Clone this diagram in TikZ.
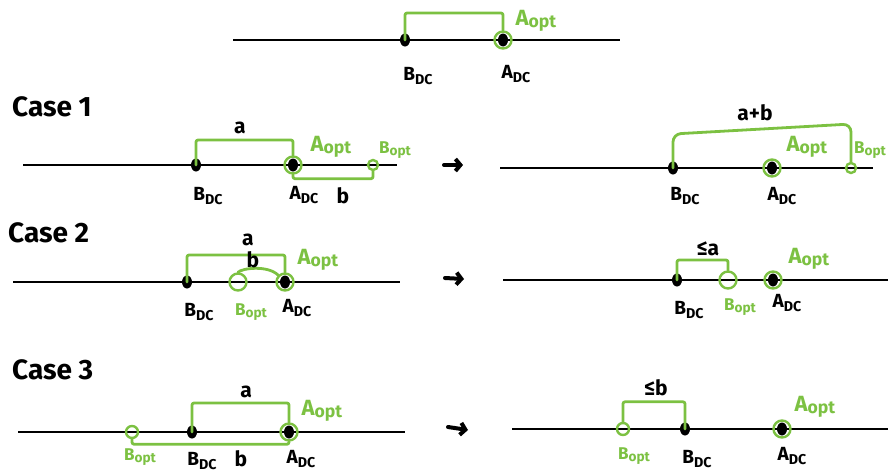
\documentclass[tikz,border=0pt]{standalone}
\usepackage{fontspec}
\setmainfont{Fira Sans}
\definecolor{optgreen}{HTML}{7CC142}
\usetikzlibrary{arrows.meta, positioning, shapes.geometric}
\newcommand{\lowsub}[1]{\raisebox{-0.45ex}{\scalebox{0.75}{#1}}}
\newcommand{\optsub}[1]{\raisebox{-0.2ex}{\scalebox{0.8}{#1}}}
\tikzset{
  axis/.style={line width=2pt},
  dcdot/.style={ellipse, fill=black, inner sep=0pt, minimum width=10pt, minimum height=13pt},
  optring/.style={circle, draw=optgreen, line width=2.4pt, inner sep=0pt, minimum size=#1},
  optring/.default=17pt,
  bracket/.style={draw=optgreen, line width=2.8pt, line join=round, line cap=round, rounded corners=2pt},
  dclabel/.style={font=\fontsize{19}{19}\selectfont\bfseries},
  optlabel/.style={text=optgreen, font=\fontsize{22}{22}\selectfont\bfseries},
  smallopt/.style={text=optgreen, font=\fontsize{17}{17}\selectfont\bfseries},
  distlabel/.style={font=\fontsize{21}{21}\selectfont\bfseries},
  caselabel/.style={anchor=west, inner sep=0pt, font=\fontsize{28}{28}\selectfont\bfseries},
  turn/.style={-{Straight Barb[length=5pt,width=12pt]}, line width=4pt, line cap=round}
}
\begin{document}
\begin{tikzpicture}[x=1pt, y=-1pt]
  \useasboundingbox (0,0) rectangle (888,474);

  \draw[axis] (233,40) -- (620,40);
  \node[dcdot] (tb) at (405,40) {};
  \node[dcdot] (ta) at (503,40) {};
  \node[optring] (tao) at (503,40) {};
  \draw[bracket] (tb.center) -- ++(0,-27) -| (tao.north);
  \node[optlabel] (taol) at (536,21) {A\optsub{opt}};
  \node[dclabel] (tbl) at (418,76) {B\lowsub{DC}};
  \node[dclabel] (tal) at (516,74) {A\lowsub{DC}};

  \node[caselabel] (c1) at (12,107) {Case 1};
  \draw[axis] (23,165) -- (397,165);
  \node[dcdot] (c1b) at (196,165) {};
  \node[dcdot] (c1a) at (293,165) {};
  \node[optring] (c1ao) at (293,165) {};
  \node[optring=10pt] (c1bo) at (373,165) {};
  \draw[bracket] (c1b.center) -- ++(0,-25) -| (c1ao.north);
  \draw[bracket] (c1ao.south) -- ++(0,4) -| (c1bo.south);
  \node[distlabel] (c1al) at (240,128) {a};
  \node[distlabel] (c1bl) at (343,196) {b};
  \node[optlabel] (c1aol) at (331,147) {A\optsub{opt}};
  \node[smallopt] (c1bol) at (395,150) {B\optsub{opt}};
  \node[dclabel] (c1bdl) at (208,196) {B\lowsub{DC}};
  \node[dclabel] (c1adl) at (304,195) {A\lowsub{DC}};

  \draw[turn] (444,165) -- (463,165);
  \draw[axis] (500,168) -- (873,168);
  \node[dcdot] (r1b) at (673,168) {};
  \node[dcdot] (r1a) at (772,168) {};
  \node[optring] (r1ao) at (772,168) {};
  \node[optring=10pt] (r1bo) at (851,168) {};
  \coordinate (r1ab) at (851,124);
  \draw[bracket, rounded corners=8pt] (r1b.center) -- ++(0,-34) -- (r1ab) -- (r1bo.north);
  \node[distlabel] (r1abl) at (755,113) {a+b};
  \node[optlabel] (r1aol) at (807,147) {A\optsub{opt}};
  \node[smallopt] (r1bol) at (870,150) {B\optsub{opt}};
  \node[dclabel] (r1bdl) at (685,196) {B\lowsub{DC}};
  \node[dclabel] (r1adl) at (782,196) {A\lowsub{DC}};

  \node[caselabel] (c2) at (8,233) {Case 2};
  \draw[axis] (13,282) -- (400,282);
  \node[dcdot] (c2b) at (187,282) {};
  \node[optring] (c2bo) at (238,282) {};
  \node[dcdot] (c2a) at (285,282) {};
  \node[optring] (c2ao) at (285,282) {};
  \draw[bracket] (c2b.center) -- ++(0,-27) -| (c2ao.north);
  \draw[bracket] (c2bo.north) .. controls (242,268) and (268,265) .. (c2ao.north west);
  \node[distlabel] (c2al) at (248,240) {a};
  \node[distlabel] (c2bl) at (253,260) {b};
  \node[optlabel] (c2aol) at (318,260) {A\optsub{opt}};
  \node[smallopt] (c2bol) at (251,312) {B\optsub{opt}};
  \node[dclabel] (c2bdl) at (199,312) {B\lowsub{DC}};
  \node[dclabel] (c2adl) at (297,308) {A\lowsub{DC}};

  \draw[turn] (445,278) -- (464,279);
  \draw[axis] (503,280) -- (888,280);
  \node[dcdot] (r2b) at (677,280) {};
  \node[optring] (r2bo) at (728,280) {};
  \node[dcdot] (r2a) at (773,280) {};
  \node[optring] (r2ao) at (773,280) {};
  \draw[bracket] (r2b.center) -- ++(0,-20) -| (r2bo.north);
  \node[distlabel] (r2al) at (708,249) {≤a};
  \node[optlabel] (r2aol) at (809,259) {A\optsub{opt}};
  \node[smallopt] (r2bol) at (740,307) {B\optsub{opt}};
  \node[dclabel] (r2bdl) at (689,310) {B\lowsub{DC}};
  \node[dclabel] (r2adl) at (787,303) {A\lowsub{DC}};

  \node[caselabel] (c3) at (12,370) {Case 3};
  \draw[axis] (18,432) -- (405,432);
  \node[optring=12pt] (c3bo) at (132,432) {};
  \node[dcdot] (c3b) at (192,432) {};
  \node[dcdot] (c3a) at (289,432) {};
  \node[optring] (c3ao) at (289,432) {};
  \draw[bracket] (c3b.center) -- ++(0,-29) -| (c3ao.north);
  \draw[bracket] (c3bo.south) -- ++(0,5) -| (c3ao.south);
  \node[distlabel] (c3al) at (246,392) {a};
  \node[distlabel] (c3bl) at (241,459) {b};
  \node[optlabel] (c3aol) at (322,411) {A\optsub{opt}};
  \node[smallopt] (c3bol) at (140,457) {B\optsub{opt}};
  \node[dclabel] (c3bdl) at (202,461) {B\lowsub{DC}};
  \node[dclabel] (c3adl) at (301,459) {A\lowsub{DC}};

  \draw[turn] (448,427) -- (468,430);
  \draw[axis] (512,429) -- (888,429);
  \node[optring=12pt] (r3bo) at (623,429) {};
  \node[dcdot] (r3b) at (685,429) {};
  \node[dcdot] (r3a) at (782,429) {};
  \node[optring] (r3ao) at (782,429) {};
  \draw[bracket] (r3bo.north) -- ++(0,-20) -| (r3b.center);
  \node[distlabel] (r3bl) at (656,388) {≤b};
  \node[optlabel] (r3aol) at (815,407) {A\optsub{opt}};
  \node[smallopt] (r3bol) at (634,456) {B\optsub{opt}};
  \node[dclabel] (r3bdl) at (697,459) {B\lowsub{DC}};
  \node[dclabel] (r3adl) at (792,456) {A\lowsub{DC}};
\end{tikzpicture}
\end{document}
